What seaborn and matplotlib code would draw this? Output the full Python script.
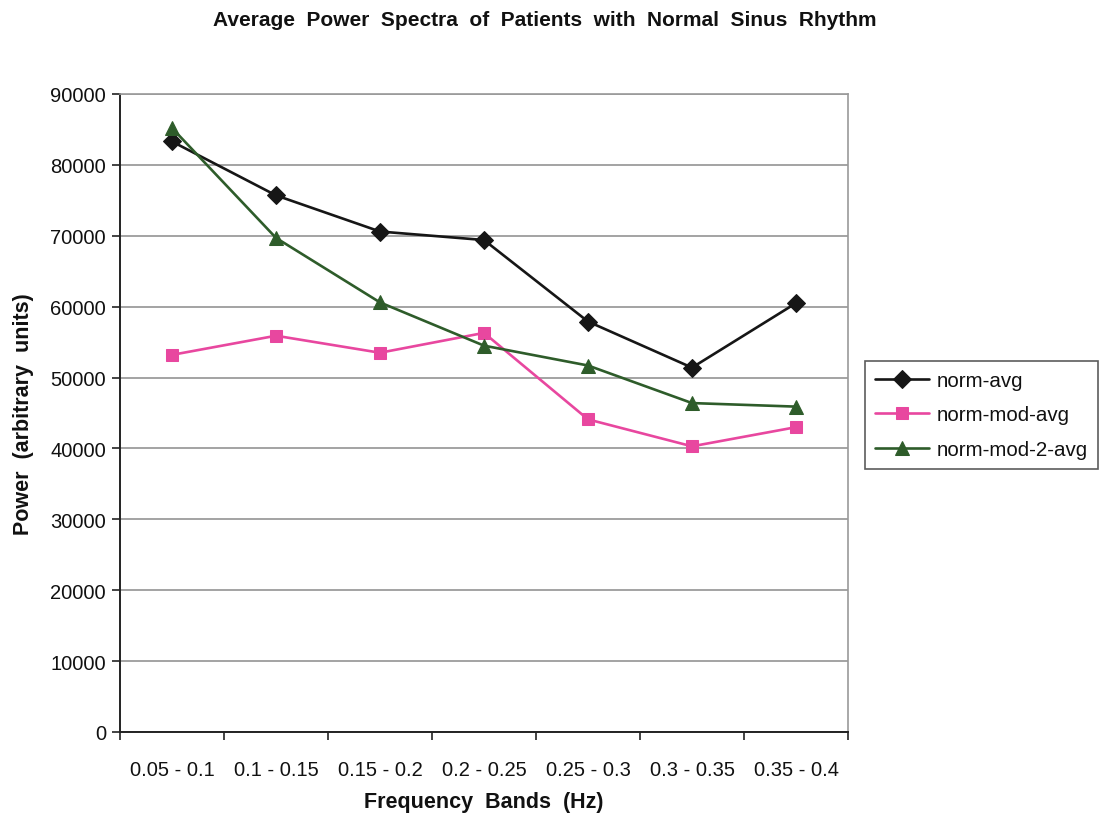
import matplotlib
matplotlib.use("Agg")
import matplotlib.pyplot as plt
import seaborn as sns
import numpy as np

bands = ["0.05 - 0.1", "0.1 - 0.15", "0.15 - 0.2", "0.2 - 0.25",
         "0.25 - 0.3", "0.3 - 0.35", "0.35 - 0.4"]
norm_avg = [83300, 75700, 70600, 69400, 57900, 51400, 60500]
norm_mod_avg = [53200, 55900, 53500, 56300, 44100, 40300, 43000]
norm_mod_2_avg = [85200, 69700, 60600, 54500, 51700, 46400, 45900]
y_ticks = list(range(0, 90001, 10000))

series = {
    "norm-avg": (norm_avg, "#161616", "D", 9),
    "norm-mod-avg": (norm_mod_avg, "#e8479f", "s", 8.5),
    "norm-mod-2-avg": (norm_mod_2_avg, "#2e5c2a", "^", 10),
}

sns.set_theme(style="white")
plt.rcParams["font.family"] = ["Liberation Sans", "DejaVu Sans"]
plt.rcParams["text.color"] = "#111111"
plt.rcParams["axes.labelcolor"] = "#111111"
plt.rcParams["xtick.color"] = "#111111"
plt.rcParams["ytick.color"] = "#111111"

fig = plt.figure(figsize=(11.03, 8.2), dpi=100)
ax = fig.add_axes([120 / 1103, 87 / 820, 728 / 1103, 638 / 820])

x = np.arange(len(bands))
for name, (vals, color, marker, ms) in series.items():
    sns.lineplot(x=x, y=vals, ax=ax, color=color, marker=marker,
                 markersize=ms, markeredgecolor=color, linewidth=1.9,
                 label=name, zorder=3)

ax.set_xlim(-0.5, len(bands) - 0.5)
ax.set_ylim(0, 90000)
ax.set_yticks(y_ticks)
ax.set_yticklabels([str(v) for v in y_ticks], fontsize=14.5)
ax.set_xticks(x)
ax.set_xticklabels(bands, fontsize=14.5)
ax.set_xticks(np.arange(-0.5, len(bands), 1.0), minor=True)
ax.tick_params(axis="x", which="major", length=0, pad=20)
ax.tick_params(axis="x", which="minor", length=6, width=1.2, color="#222222",
               direction="out", bottom=True)
ax.tick_params(axis="y", length=6, width=1.2, color="#222222",
               direction="out", left=True, pad=4)

ax.yaxis.grid(True, color="#8a8a8a", linewidth=1.1)
ax.xaxis.grid(False)
ax.set_axisbelow(True)
for side in ("left", "bottom"):
    ax.spines[side].set_color("#222222")
    ax.spines[side].set_linewidth(1.4)
for side in ("top", "right"):
    ax.spines[side].set_color("#9a9a9a")
    ax.spines[side].set_linewidth(1.2)

ax.set_xlabel("Frequency  Bands  (Hz)", fontsize=15.5, fontweight="bold", labelpad=9)
ax.set_ylabel("Power  (arbitrary  units)", fontsize=15.5, fontweight="bold", labelpad=12)

fig.text(0.494, 0.986, "Average  Power  Spectra  of  Patients  with  Normal  Sinus  Rhythm",
         ha="center", va="top", fontsize=15, fontweight="bold")

leg = ax.legend(loc="center left", bbox_to_anchor=(865 / 1103, 404 / 820),
                bbox_transform=fig.transFigure, fontsize=14.8, frameon=True,
                fancybox=False, edgecolor="#333333", handlelength=2.6,
                borderpad=0.5, labelspacing=0.75, handletextpad=0.4,
                borderaxespad=0)
leg.get_frame().set_linewidth(1.2)

fig.savefig("out.png", dpi=100, facecolor="white")
